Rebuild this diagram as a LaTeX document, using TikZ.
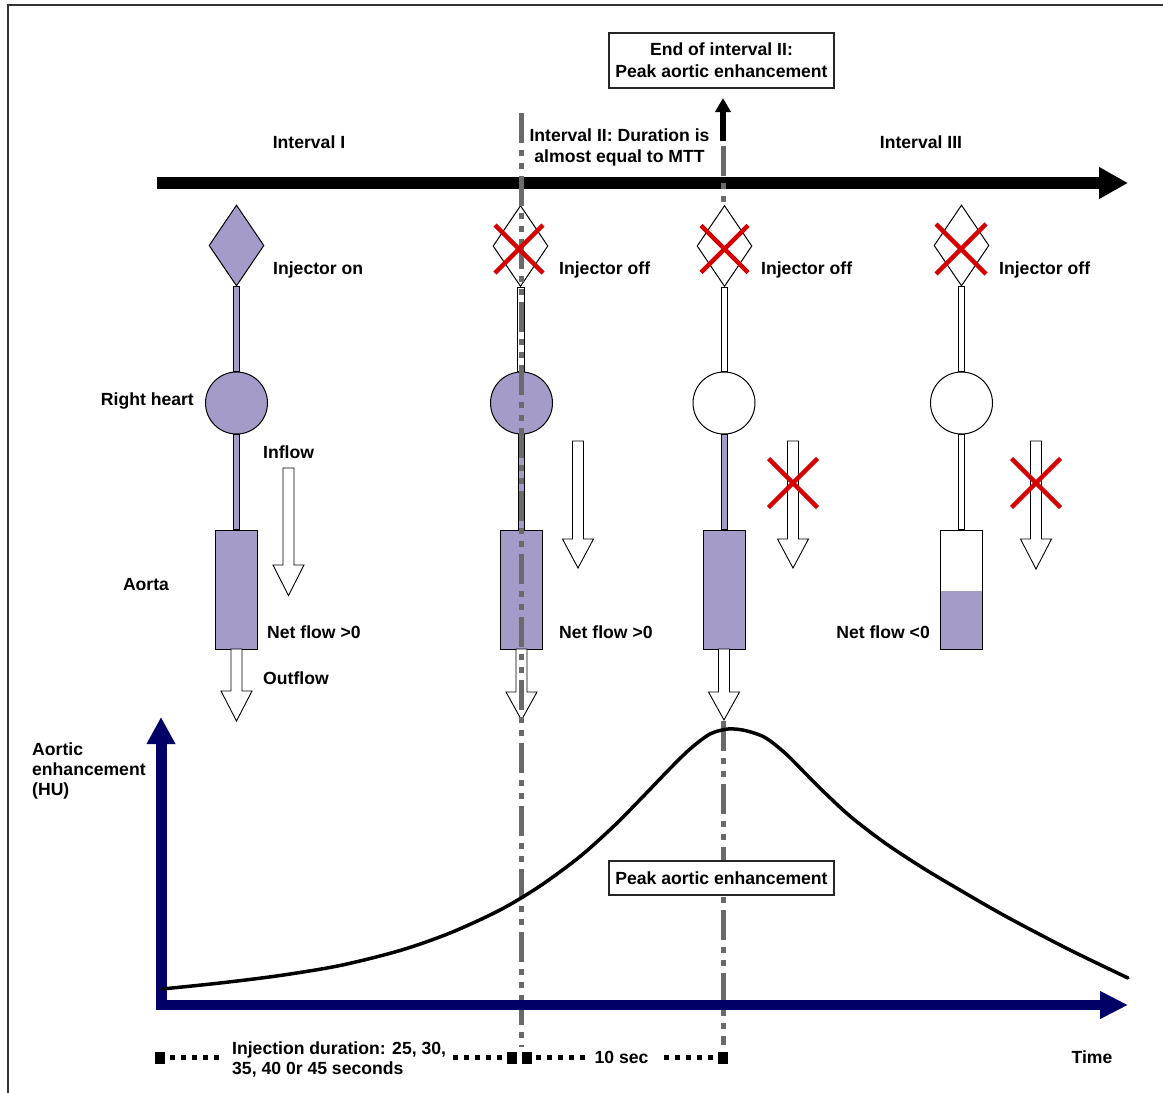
\documentclass[tikz,border=0pt]{standalone}
\usepackage{fontspec}
\setmainfont{Liberation Sans}
\usetikzlibrary{shapes.geometric,arrows.meta,calc}
\definecolor{pur}{RGB}{164,155,201}
\definecolor{navyax}{RGB}{0,0,102}
\definecolor{redx}{RGB}{214,0,0}
\definecolor{dgray}{RGB}{106,106,106}
\newcommand\lblfont{\fontsize{17.6}{21}\selectfont\bfseries}
\newcommand\flowarrow[4]{\draw[blockarr] (#1-5.5,#2) -- (#1+5.5,#2) -- (#1+5.5,#3) -- (#1+15.5,#3) -- (#1,#4) -- (#1-15.5,#3) -- (#1-5.5,#3) -- cycle;}
\newcommand\redcross[3]{\draw[crossx] (#1-#3,#2-#3) -- (#1+#3,#2+#3) (#1-#3,#2+#3) -- (#1+#3,#2-#3);}
\newcommand\tubelink[3]{\draw[tube, fill=#1] ($(#2.south)+(-3,0)$) rectangle ($(#3.north)+(3,0)$);}
\begin{document}
\begin{tikzpicture}[x=1pt,y=-1pt,
  lbl/.style={font=\lblfont, inner sep=0pt, text height=12.6pt, text depth=0pt},
  mlbl/.style={font=\lblfont, inner sep=0pt},
  injd/.style={diamond, draw, line width=1pt, minimum width=55pt, minimum height=81pt, inner sep=0pt},
  heart/.style={circle, draw, line width=1pt, minimum size=62pt, inner sep=0pt},
  aorta/.style={rectangle, draw, line width=1pt, minimum width=42pt, minimum height=119pt, inner sep=0pt},
  tube/.style={draw=black, line width=0.9pt},
  blockarr/.style={draw=black, line width=0.9pt, fill=white, line join=miter},
  crossx/.style={draw=redx, line width=4.5pt},
  ddline/.style={draw=dgray, line width=5pt, dash pattern=on 30pt off 7pt on 6pt off 7pt on 6pt off 7pt},
  boxlbl/.style={draw=black!85, line width=1.2pt, fill=white, font=\lblfont, inner sep=0pt, minimum width=225pt},
  sq/.style={fill=black, minimum width=10pt, minimum height=12pt, inner sep=0pt},
  dotline/.style={line width=4.5pt, dash pattern=on 4.5pt off 6.5pt},
  axis/.style={draw=navyax, line width=11pt}
]
\useasboundingbox (0,0) rectangle (1163,1093);
% frame
\draw[black!80, line width=2pt] (8,1093) -- (8,5) -- (1163,5);

% main time arrow
\coordinate (ta0) at (157,183);
\coordinate (ta1) at (1128,183);
\draw[line width=12pt, -{Triangle[length=29pt,width=30pt]}] (ta0) -- (ta1);

% labels top
\node[lbl] (int1) at (309,142) {Interval I};
\node[mlbl, align=center, anchor=north, font=\fontsize{17.6}{21}\selectfont\bfseries] (int2) at (619.5,128.5) {Interval II: Duration is\\almost equal to MTT};
\node[lbl] (int3) at (921,142) {Interval III};

\node[boxlbl, minimum height=55pt, align=center, font=\fontsize{17.6}{22}\selectfont\bfseries] (endbox) at (721.5,60.5) {End of interval II:\\Peak aortic enhancement};
\coordinate (up0) at (723,141);
\coordinate (up1) at (723,98);
\draw[line width=5.5pt, -{Triangle[length=14pt,width=15pt]}] (up0) -- (up1);

% ---- column 1
\node[injd, fill=pur] (d1) at (236.5,245.5) {};
\node[heart, fill=pur] (c1) at (236.5,403) {};
\node[aorta, fill=pur] (r1) at (236.5,589.5) {};
\tubelink{pur}{d1}{c1}
\tubelink{pur}{c1}{r1}
\flowarrow{288.5}{468}{565}{595.5}
\flowarrow{236.5}{649}{691}{721}
\node[lbl, anchor=west] at (273,268) {Injector on};
\node[lbl, anchor=east] at (194,399) {Right heart};
\node[lbl, anchor=west] at (263,452) {Inflow};
\node[lbl] at (146,584) {Aorta};
\node[lbl, anchor=west] at (267,632) {Net flow >0};
\node[lbl, anchor=west] at (263,678) {Outflow};

% ---- column 2
\node[injd, fill=white] (d2) at (520.5,246) {};
\node[heart, fill=pur] (c2) at (521.5,403) {};
\node[aorta, fill=pur] (r2) at (521.5,589.5) {};
\tubelink{white}{d2}{c2}
\tubelink{pur}{c2}{r2}
\flowarrow{578}{441}{539}{568}
\flowarrow{521.5}{649}{692}{720}
\node[lbl, anchor=west] at (559,268) {Injector off};
\node[lbl, anchor=west] at (559,632) {Net flow >0};

% ---- column 3
\node[injd, fill=white] (d3) at (724.5,246) {};
\node[heart, fill=white] (c3) at (724,403) {};
\node[aorta, fill=pur] (r3) at (724,589.5) {};
\tubelink{white}{d3}{c3}
\tubelink{pur}{c3}{r3}
\flowarrow{793}{441}{539}{568}
\flowarrow{724}{649}{692}{720}
\node[lbl, anchor=west] at (761,268) {Injector off};

% ---- column 4
\node[injd, fill=white] (d4) at (961.5,245.5) {};
\node[heart, fill=white] (c4) at (961.5,403) {};
\fill[pur] (940.5,591) rectangle (982.5,649);
\node[aorta] (r4) at (961.5,589.5) {};
\tubelink{white}{d4}{c4}
\tubelink{white}{c4}{r4}
\flowarrow{1036}{441}{539}{569}
\node[lbl, anchor=west] at (999,268) {Injector off};
\node[lbl, anchor=east] at (930,632) {Net flow <0};

% dash-dot time markers
\coordinate (m1a) at (521.5,113);
\coordinate (m1b) at (521.5,1047);
\coordinate (m2a) at (723,146);
\coordinate (m2b) at (723,205);
\coordinate (m2c) at (723,721);
\coordinate (m2d) at (723,1045);
\draw[ddline] (m1a) -- (m1b);
\draw[ddline] (m2a) -- (m2b);
\draw[ddline] (m2c) -- (m2d);

% red crosses
\redcross{519}{249}{24}
\redcross{724.5}{249}{23.5}
\redcross{961}{249}{25}
\redcross{793}{483}{24.5}
\redcross{1036}{483}{24.5}

% graph axes
\coordinate (ax0) at (161,1010);
\coordinate (axy) at (161,717);
\coordinate (ax1) at (156,1005);
\coordinate (axx) at (1128,1005);
\draw[axis, -{Triangle[length=27pt,width=27pt]}] (ax0) -- (axy);
\draw[axis, line width=10pt, -{Triangle[length=28pt,width=26pt]}] (ax1) -- (axx);
\node[mlbl, align=left, anchor=north west, font=\fontsize{17.6}{20}\selectfont\bfseries] (ylab) at (32,742.5) {Aortic\\enhancement\\(HU)};

% enhancement curve
\draw[line width=3.5pt, line cap=round] plot[smooth, tension=0.5] coordinates {
  (162,989) (220,983) (280,975.5) (340,965.5) (400,950.5) (450,933) (500,910)
  (540,886) (580,856.5) (615,825) (645,794.5) (670,768.5) (690,749) (710,734) (728,729)
  (745,730.5) (765,737.5) (785,753) (805,773) (825,793) (851,817) (885,843) (923,868)
  (965,893) (1007,917) (1068,949) (1128,978)};

\node[boxlbl, minimum height=34pt, text height=12.6pt, text depth=0pt] (peakbox) at (721.5,878) {Peak aortic enhancement};

% time line at bottom
\node[sq] (t0) at (160,1057.5) {};
\node[sq] (t1) at (512,1057.5) {};
\node[sq] (t2) at (527,1057.5) {};
\node[sq] (t3) at (723,1057.5) {};
\draw[dotline] (170,1057.5) -- (220,1057.5);
\draw[dotline] (453,1057.5) -- (503,1057.5);
\draw[dotline] (536,1057.5) -- (586,1057.5);
\draw[dotline] (664,1057.5) -- (714,1057.5);
\node[mlbl, align=left, anchor=north west, font=\fontsize{17.6}{20}\selectfont\bfseries] (dur) at (232,1041.5) {Injection duration: 25, 30,\\35, 40 0r 45 seconds};
\node[lbl] (tensec) at (621.5,1057) {10 sec};
\node[lbl] (time) at (1092,1057) {Time};
\end{tikzpicture}
\end{document}
